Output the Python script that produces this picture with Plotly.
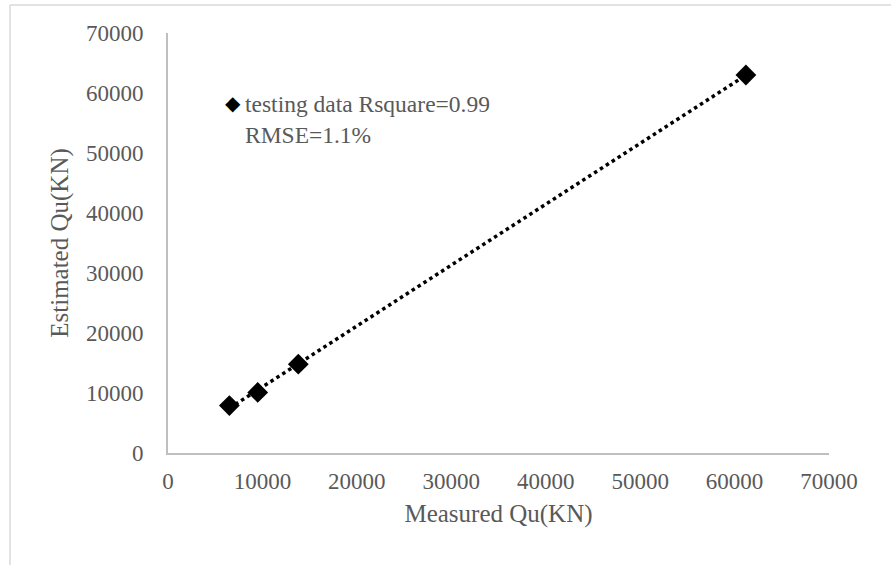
import numpy as np
import plotly.graph_objects as go

# Measured vs estimated ultimate capacity (testing set)
measured_qu = [6500, 9500, 13800, 61200]
estimated_qu = [7900, 10100, 14800, 63000]
legend_text = "testing data Rsquare=0.99<br>RMSE=1.1%"
tick_values = [0, 10000, 20000, 30000, 40000, 50000, 60000, 70000]
tick_labels = [str(v) for v in tick_values]

# linear trendline over the measured range
slope, intercept = np.polyfit(measured_qu, estimated_qu, 1)
trend_x = [min(measured_qu), max(measured_qu)]
trend_y = [slope * x + intercept for x in trend_x]

font_family = "Liberation Serif, Times New Roman, serif"
text_gray = "#595959"
axis_gray = "#bfbfbf"

fig = go.Figure()
fig.add_trace(go.Scatter(
    x=trend_x, y=trend_y, mode="lines",
    line=dict(color="black", width=3.5, dash="dot"),
    showlegend=False, hoverinfo="skip",
))
fig.add_trace(go.Scatter(
    x=measured_qu, y=estimated_qu, mode="markers", name="testing data",
    marker=dict(symbol="diamond", size=16, color="black"),
    showlegend=False,
))

W, H = 891, 565
L, R, T, B = 168, 62, 33, 112
pw, ph = W - L - R, H - T - B

def px_to_paper_x(px):
    return (px - L) / pw

def px_to_paper_y(py):
    return (H - B - py) / ph

# legend block: diamond key plus the fit statistics
annotations = [
    dict(text="◆", xref="paper", yref="paper",
         x=px_to_paper_x(233), y=px_to_paper_y(103), xanchor="center", yanchor="middle",
         showarrow=False, font=dict(family="DejaVu Sans", size=20, color="black")),
    dict(text=legend_text, xref="paper", yref="paper", align="left",
         x=px_to_paper_x(243), y=px_to_paper_y(89), xanchor="left", yanchor="top",
         showarrow=False, font=dict(family=font_family, size=23.5, color=text_gray)),
]

fig.update_layout(
    width=W, height=H,
    margin=dict(l=L, r=R, t=T, b=B),
    paper_bgcolor="white", plot_bgcolor="white",
    font=dict(family=font_family, color=text_gray, size=23),
    showlegend=False,
    xaxis=dict(
        range=[0, 70000], tickvals=tick_values, ticktext=tick_labels,
        showgrid=False, zeroline=False, showline=True, linecolor=axis_gray, linewidth=2,
        ticks="outside", ticklen=6, tickcolor="rgba(0,0,0,0)",
        title=dict(text="Measured Qu(KN)", font=dict(size=25, color=text_gray), standoff=12),
        fixedrange=True,
    ),
    yaxis=dict(
        range=[0, 70000], tickvals=tick_values, ticktext=tick_labels,
        showgrid=False, zeroline=False, showline=True, linecolor=axis_gray, linewidth=2,
        ticks="outside", ticklen=18, tickcolor="rgba(0,0,0,0)",
        title=dict(text="Estimated Qu(KN)", font=dict(size=25, color=text_gray), standoff=10),
        fixedrange=True,
    ),
    annotations=annotations,
    shapes=[
        dict(type="line", xref="paper", yref="paper",
             x0=px_to_paper_x(10), x1=px_to_paper_x(W + 5),
             y0=px_to_paper_y(5), y1=px_to_paper_y(5),
             line=dict(color="#d9d9d9", width=1.5)),
        dict(type="line", xref="paper", yref="paper",
             x0=px_to_paper_x(10), x1=px_to_paper_x(10),
             y0=px_to_paper_y(5), y1=px_to_paper_y(H + 5),
             line=dict(color="#d9d9d9", width=1.5)),
    ],
)

fig.write_html("out.html")
